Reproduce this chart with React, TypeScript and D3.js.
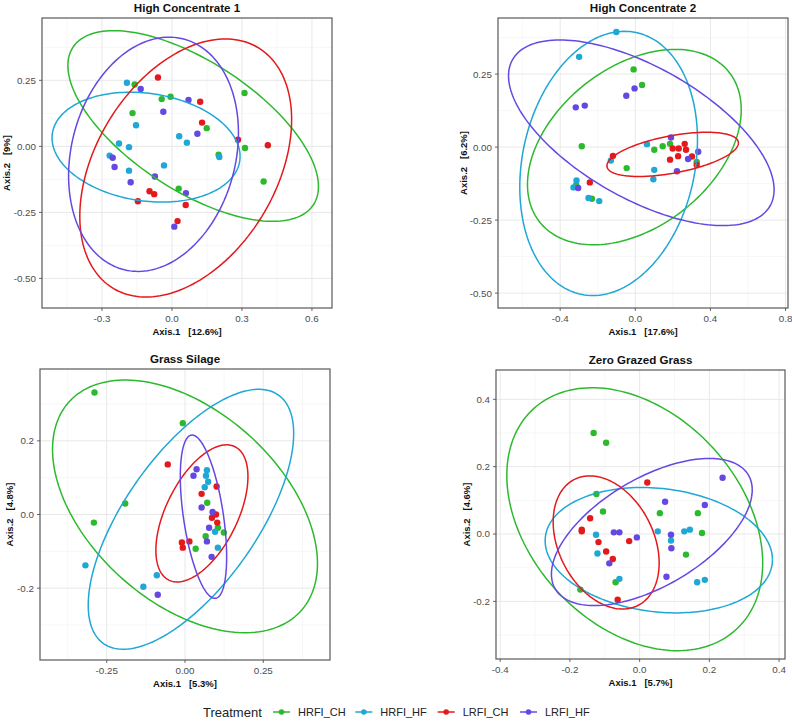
import React from 'react';
import * as d3 from 'd3';

// group, x, y  (ordination coordinates)
type Pt = [string, number, number];
// group, centre x, centre y, x-extreme offset (ax, ay), vertical half chord (by)
type Ell = [string, number, number, number, number, number];

const groups = ['HRFI_CH', 'HRFI_HF', 'LRFI_CH', 'LRFI_HF'];
const groupColors = ['#2db92d', '#1fa7d6', '#e3191c', '#6548e3'];

const panelTitles = ['High Concentrate 1', 'High Concentrate 2', 'Grass Silage', 'Zero Grazed Grass'];
const xAxisTitles = ['Axis.1   [12.6%]', 'Axis.1   [17.6%]', 'Axis.1   [5.3%]', 'Axis.1   [5.7%]'];
const yAxisTitles = ['Axis.2   [9%]', 'Axis.2   [6.2%]', 'Axis.2   [4.8%]', 'Axis.2   [4.6%]'];

const xDomains = [[-0.557, 0.686], [-0.731, 0.813], [-0.463, 0.463], [-0.412, 0.417]];
const yDomains = [[-0.612, 0.486], [-0.551, 0.442], [-0.395, 0.395], [-0.371, 0.487]];
const xTicks = [[-0.3, 0, 0.3, 0.6], [-0.4, 0, 0.4, 0.8], [-0.25, 0, 0.25], [-0.4, -0.2, 0, 0.2, 0.4]];
const yTicks = [[-0.5, -0.25, 0, 0.25], [-0.5, -0.25, 0, 0.25], [-0.2, 0, 0.2], [-0.2, 0, 0.2, 0.4]];
const xMinor = [[-0.45, -0.15, 0.15, 0.45], [-0.6, -0.2, 0.2, 0.6], [-0.375, -0.125, 0.125, 0.375], [-0.3, -0.1, 0.1, 0.3]];
const yMinor = [[-0.375, -0.125, 0.125, 0.375], [-0.375, -0.125, 0.125, 0.375], [-0.3, -0.1, 0.1, 0.3], [-0.3, -0.1, 0.1, 0.3]];
const xTickFormats = ['.1f', '.1f', '.2f', '.1f'];
const yTickFormats = ['.2f', '.2f', '.1f', '.1f'];

const hc1Points: Pt[] = [
  ['HRFI_CH', -0.160, 0.234], ['HRFI_CH', -0.044, 0.179], ['HRFI_CH', -0.006, 0.188], ['HRFI_CH', -0.169, 0.126],
  ['HRFI_CH', 0.149, 0.069], ['HRFI_CH', 0.311, 0.202], ['HRFI_CH', 0.313, -0.006], ['HRFI_CH', 0.200, -0.032],
  ['HRFI_CH', 0.393, -0.133], ['HRFI_CH', 0.029, -0.160],
  ['HRFI_HF', -0.193, 0.241], ['HRFI_HF', -0.154, 0.080], ['HRFI_HF', -0.227, 0.011], ['HRFI_HF', -0.184, -0.003],
  ['HRFI_HF', -0.267, -0.035], ['HRFI_HF', -0.184, -0.092], ['HRFI_HF', -0.034, -0.072], ['HRFI_HF', 0.031, 0.038],
  ['HRFI_HF', 0.064, 0.014], ['HRFI_HF', 0.203, -0.040],
  ['LRFI_CH', -0.060, 0.261], ['LRFI_CH', 0.121, 0.169], ['LRFI_CH', 0.129, 0.090], ['LRFI_CH', 0.283, 0.025],
  ['LRFI_CH', 0.411, 0.004], ['LRFI_CH', -0.096, -0.170], ['LRFI_CH', -0.076, -0.181], ['LRFI_CH', -0.146, -0.208],
  ['LRFI_CH', 0.059, -0.222], ['LRFI_CH', 0.024, -0.283],
  ['LRFI_HF', -0.134, 0.217], ['LRFI_HF', -0.037, 0.131], ['LRFI_HF', 0.071, 0.176], ['LRFI_HF', 0.109, 0.048],
  ['LRFI_HF', -0.254, -0.043], ['LRFI_HF', -0.246, -0.078], ['LRFI_HF', -0.177, -0.136], ['LRFI_HF', -0.073, -0.114],
  ['LRFI_HF', 0.060, -0.177], ['LRFI_HF', 0.010, -0.304],
];

const hc2Points: Pt[] = [
  ['HRFI_CH', -0.009, 0.266], ['HRFI_CH', 0.036, 0.213], ['HRFI_CH', -0.285, 0.003], ['HRFI_CH', -0.046, -0.072],
  ['HRFI_CH', 0.101, -0.009], ['HRFI_CH', 0.146, 0.003], ['HRFI_CH', 0.185, 0.011], ['HRFI_CH', 0.327, -0.051],
  ['HRFI_CH', -0.231, -0.177], ['HRFI_CH', -0.315, -0.130],
  ['HRFI_HF', -0.101, 0.394], ['HRFI_HF', -0.299, 0.309], ['HRFI_HF', 0.062, 0.010], ['HRFI_HF', -0.130, -0.046],
  ['HRFI_HF', 0.101, -0.078], ['HRFI_HF', 0.096, -0.110], ['HRFI_HF', -0.313, -0.114], ['HRFI_HF', -0.329, -0.138],
  ['HRFI_HF', -0.249, -0.174], ['HRFI_HF', -0.192, -0.185],
  ['LRFI_CH', -0.119, -0.030], ['LRFI_CH', 0.199, -0.005], ['LRFI_CH', 0.231, -0.005], ['LRFI_CH', 0.263, 0.011],
  ['LRFI_CH', 0.270, -0.009], ['LRFI_CH', 0.228, -0.031], ['LRFI_CH', 0.185, -0.043], ['LRFI_CH', 0.302, -0.032],
  ['LRFI_CH', 0.327, -0.061], ['LRFI_CH', -0.242, -0.121],
  ['LRFI_HF', -0.004, 0.201], ['LRFI_HF', -0.048, 0.176], ['LRFI_HF', -0.317, 0.136], ['LRFI_HF', -0.269, 0.142],
  ['LRFI_HF', 0.190, 0.033], ['LRFI_HF', 0.335, -0.016], ['LRFI_HF', 0.281, -0.041], ['LRFI_HF', 0.222, -0.083],
  ['LRFI_HF', -0.304, -0.140],
];

const gsPoints: Pt[] = [
  ['HRFI_CH', -0.289, 0.331], ['HRFI_CH', -0.007, 0.248], ['HRFI_CH', -0.191, 0.030], ['HRFI_CH', -0.291, -0.022],
  ['HRFI_CH', 0.071, 0.032], ['HRFI_CH', 0.066, -0.059], ['HRFI_CH', 0.034, -0.093], ['HRFI_CH', 0.105, -0.036],
  ['HRFI_CH', 0.124, -0.049],
  ['HRFI_HF', -0.318, -0.138], ['HRFI_HF', -0.133, -0.196], ['HRFI_HF', -0.090, -0.165], ['HRFI_HF', 0.070, 0.120],
  ['HRFI_HF', 0.067, 0.105], ['HRFI_HF', 0.074, 0.089], ['HRFI_HF', 0.063, 0.074], ['HRFI_HF', 0.096, -0.047],
  ['HRFI_HF', 0.105, -0.090],
  ['LRFI_CH', -0.055, 0.136], ['LRFI_CH', 0.101, 0.076], ['LRFI_CH', 0.053, 0.056], ['LRFI_CH', 0.086, -0.009],
  ['LRFI_CH', 0.099, 0.000], ['LRFI_CH', 0.103, -0.022], ['LRFI_CH', -0.010, -0.076], ['LRFI_CH', 0.014, -0.073],
  ['LRFI_CH', -0.007, -0.090],
  ['LRFI_HF', 0.037, 0.123], ['LRFI_HF', 0.027, 0.105], ['LRFI_HF', 0.053, 0.019], ['LRFI_HF', 0.088, 0.007],
  ['LRFI_HF', 0.077, -0.036], ['LRFI_HF', 0.070, -0.073], ['LRFI_HF', 0.085, -0.115], ['LRFI_HF', -0.087, -0.218],
];

const zggPoints: Pt[] = [
  ['HRFI_CH', -0.132, 0.300], ['HRFI_CH', -0.096, 0.271], ['HRFI_CH', -0.124, 0.119], ['HRFI_CH', -0.105, 0.067],
  ['HRFI_CH', 0.058, 0.062], ['HRFI_CH', 0.167, 0.062], ['HRFI_CH', 0.179, 0.003], ['HRFI_CH', 0.133, -0.061],
  ['HRFI_CH', -0.069, -0.143], ['HRFI_CH', -0.170, -0.165],
  ['HRFI_HF', -0.125, -0.002], ['HRFI_HF', -0.121, -0.058], ['HRFI_HF', -0.058, -0.133], ['HRFI_HF', 0.052, 0.008],
  ['HRFI_HF', 0.090, -0.019], ['HRFI_HF', 0.128, 0.008], ['HRFI_HF', 0.144, 0.013], ['HRFI_HF', 0.165, -0.143],
  ['HRFI_HF', 0.187, -0.136],
  ['LRFI_CH', 0.022, 0.153], ['LRFI_CH', -0.142, 0.047], ['LRFI_CH', -0.166, 0.013], ['LRFI_CH', -0.166, 0.008],
  ['LRFI_CH', -0.118, -0.024], ['LRFI_CH', -0.030, -0.021], ['LRFI_CH', -0.096, -0.052], ['LRFI_CH', -0.077, -0.074],
  ['LRFI_CH', -0.063, -0.195],
  ['LRFI_HF', 0.238, 0.167], ['LRFI_HF', 0.073, 0.096], ['LRFI_HF', 0.187, 0.086], ['LRFI_HF', -0.074, 0.005],
  ['LRFI_HF', -0.058, 0.005], ['LRFI_HF', -0.008, -0.010], ['LRFI_HF', 0.090, -0.002], ['LRFI_HF', 0.091, -0.042],
  ['LRFI_HF', -0.087, -0.087], ['LRFI_HF', 0.077, -0.127],
];

const hc1Ellipses: Ell[] = [
  ['HRFI_CH', 0.091, 0.077, 0.537, -0.229, 0.279],
  ['HRFI_HF', -0.111, -0.003, 0.403, -0.035, 0.205],
  ['LRFI_CH', 0.059, -0.082, 0.454, 0.183, 0.453],
  ['LRFI_HF', -0.079, -0.030, 0.364, 0.081, 0.436],
];
const hc2Ellipses: Ell[] = [
  ['HRFI_CH', -0.005, 0.000, 0.569, 0.128, 0.309],
  ['HRFI_HF', -0.142, -0.056, 0.473, 0.081, 0.445],
  ['LRFI_CH', 0.199, -0.025, 0.350, 0.039, 0.065],
  ['LRFI_HF', 0.032, 0.049, 0.707, -0.195, 0.251],
];
const gsEllipses: Ell[] = [
  ['HRFI_CH', 0.000, 0.022, 0.423, -0.155, 0.306],
  ['HRFI_HF', 0.019, -0.013, 0.328, 0.233, 0.265],
  ['LRFI_CH', 0.054, 0.003, 0.147, 0.100, 0.157],
  ['LRFI_HF', 0.059, -0.006, 0.074, -0.109, 0.193],
];
const zggEllipses: Ell[] = [
  ['HRFI_CH', -0.014, 0.044, 0.367, -0.130, 0.368],
  ['HRFI_HF', 0.055, -0.048, 0.326, -0.028, 0.184],
  ['LRFI_CH', -0.096, -0.025, 0.152, -0.061, 0.188],
  ['LRFI_HF', 0.035, 0.006, 0.288, 0.125, 0.179],
];

const panelPoints = [hc1Points, hc2Points, gsPoints, zggPoints];
const panelEllipses = [hc1Ellipses, hc2Ellipses, gsEllipses, zggEllipses];

// layout
const W = 792;
const H = 721;
const boxes = [
  { x: 42, y: 18, w: 290, h: 290, yTitleGap: 32 },
  { x: 498, y: 18, w: 290, h: 290, yTitleGap: 31 },
  { x: 40, y: 369, w: 290, h: 291, yTitleGap: 27 },
  { x: 496, y: 370, w: 289, h: 289, yTitleGap: 26 },
];
const FONT = '"Liberation Sans", Arial, sans-serif';

const locale = d3.formatLocale({ decimal: '.', thousands: ',', grouping: [3], currency: ['', ''], minus: '-' });
const color = d3.scaleOrdinal<string, string>().domain(groups).range(groupColors);

const Panel: React.FC<{ i: number }> = ({ i }) => {
  const b = boxes[i];
  const x = d3.scaleLinear().domain(xDomains[i]).range([b.x, b.x + b.w]);
  const y = d3.scaleLinear().domain(yDomains[i]).range([b.y + b.h, b.y]);
  const fx = locale.format(xTickFormats[i]);
  const fy = locale.format(yTickFormats[i]);
  const ts = d3.range(0, 2 * Math.PI + 0.001, Math.PI / 90);

  return (
    <g>
      <rect x={b.x} y={b.y} width={b.w} height={b.h} fill="#fff" />
      {xMinor[i].map(v => (
        <line key={'xm' + v} x1={x(v)} x2={x(v)} y1={b.y} y2={b.y + b.h} stroke="#f2f2f2" strokeWidth={0.6} />
      ))}
      {yMinor[i].map(v => (
        <line key={'ym' + v} y1={y(v)} y2={y(v)} x1={b.x} x2={b.x + b.w} stroke="#f2f2f2" strokeWidth={0.6} />
      ))}
      {xTicks[i].map(v => (
        <line key={'xg' + v} x1={x(v)} x2={x(v)} y1={b.y} y2={b.y + b.h} stroke="#e8e8e8" strokeWidth={1} />
      ))}
      {yTicks[i].map(v => (
        <line key={'yg' + v} y1={y(v)} y2={y(v)} x1={b.x} x2={b.x + b.w} stroke="#e8e8e8" strokeWidth={1} />
      ))}
      {panelPoints[i].map((p, k) => (
        <circle key={'p' + k} cx={x(p[1])} cy={y(p[2])} r={3.2} fill={color(p[0])} />
      ))}
      {panelEllipses[i].map(e => {
        const [g, cx, cy, ax, ay, by] = e;
        const pts = ts.map(t => [x(cx + ax * Math.cos(t)), y(cy + ay * Math.cos(t) + by * Math.sin(t))] as [number, number]);
        return <path key={'e' + g} d={d3.line()(pts) || ''} fill="none" stroke={color(g)} strokeWidth={1.5} />;
      })}
      <rect x={b.x} y={b.y} width={b.w} height={b.h} fill="none" stroke="#595959" strokeWidth={1.2} />
      {xTicks[i].map(v => (
        <g key={'xt' + v}>
          <line x1={x(v)} x2={x(v)} y1={b.y + b.h} y2={b.y + b.h + 3} stroke="#444" strokeWidth={0.8} />
          <text x={x(v)} y={b.y + b.h + 14} textAnchor="middle" fontSize={9.8} fill="#4d4d4d" fontFamily={FONT}>
            {fx(v)}
          </text>
        </g>
      ))}
      {yTicks[i].map(v => (
        <g key={'yt' + v}>
          <line x1={b.x - 3} x2={b.x} y1={y(v)} y2={y(v)} stroke="#444" strokeWidth={0.8} />
          <text x={b.x - 6} y={y(v)} dy="0.35em" textAnchor="end" fontSize={9.8} fill="#4d4d4d" fontFamily={FONT}>
            {fy(v)}
          </text>
        </g>
      ))}
      <text x={b.x + b.w / 2} y={b.y - 6} textAnchor="middle" fontSize={11.6} fontWeight="bold" fill="#111" fontFamily={FONT}>
        {panelTitles[i]}
      </text>
      <text x={b.x + b.w / 2} y={b.y + b.h + 27} textAnchor="middle" fontSize={9.5} fontWeight="bold" fill="#111"
        fontFamily={FONT} style={{ whiteSpace: 'pre' }}>
        {xAxisTitles[i]}
      </text>
      <text transform={`translate(${b.x - b.yTitleGap},${b.y + b.h / 2}) rotate(-90)`} textAnchor="middle" fontSize={9.5}
        fontWeight="bold" fill="#111" fontFamily={FONT} style={{ whiteSpace: 'pre' }}>
        {yAxisTitles[i]}
      </text>
    </g>
  );
};

const Legend: React.FC = () => {
  const legendX = d3.scalePoint<string>().domain(groups).range([273, 520]);
  return (
    <g fontFamily={FONT}>
      <text x={203} y={717} fontSize={13} fill="#222">Treatment</text>
      {groups.map(g => (
        <g key={g} transform={`translate(${legendX(g)},712)`}>
          <line x1={0} x2={17} y1={0} y2={0} stroke={color(g)} strokeWidth={1.5} />
          <circle cx={8.5} cy={0} r={2.8} fill={color(g)} />
          <text x={25} y={4} fontSize={11} fill="#222">{g}</text>
        </g>
      ))}
    </g>
  );
};

export default function App() {
  return (
    <div style={{ position: 'absolute', left: 0, top: 0 }}>
      <svg width={W} height={H} style={{ display: 'block', background: '#fff' }}>
        {boxes.map((_, i) => <Panel key={i} i={i} />)}
        <Legend />
      </svg>
    </div>
  );
}
